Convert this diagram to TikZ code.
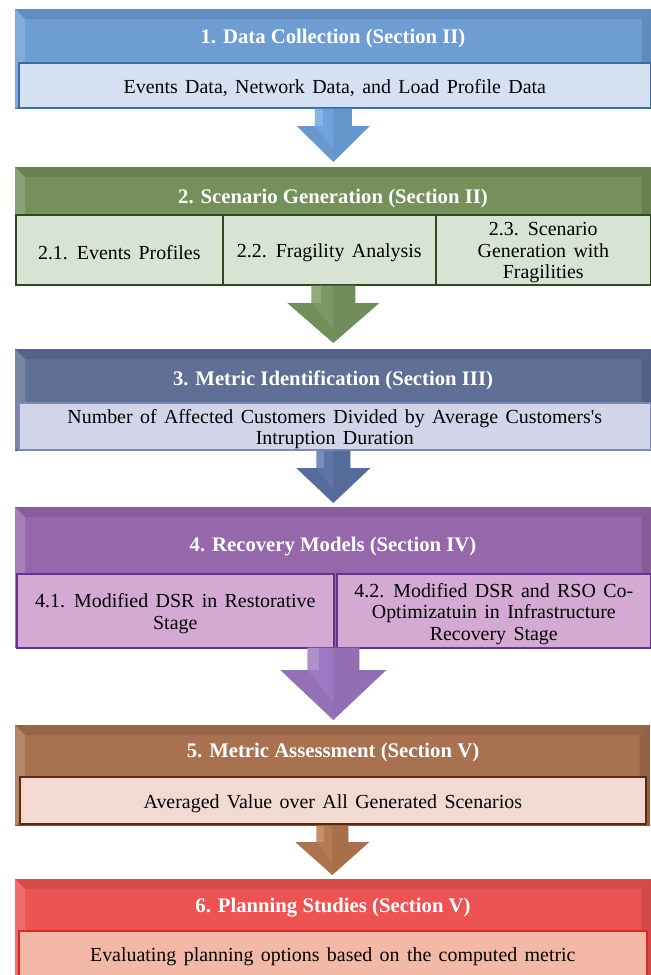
\documentclass[tikz,border=0pt]{standalone}
\usepackage{fontspec}
\setmainfont{Liberation Serif}
\newfontfamily\headfont{Liberation Serif}
\newfontfamily\bodyfont{Liberation Serif}
\usetikzlibrary{calc}

% body text: size, leading and the wide word spacing of the boxes
\newcommand\bodystyle{\bodyfont\fontsize{20}{21.5}\selectfont\spaceskip=7.4pt plus 1pt minus 1pt\relax}

% stage colours: heading band, detail box fill, detail box line, arrow
\definecolor{c1}{HTML}{6D9DD3}\definecolor{c1in}{HTML}{D5E1F2}\definecolor{c1ln}{HTML}{3E6BAC}\definecolor{a1}{HTML}{6FA3DC}
\definecolor{c2}{HTML}{76905C}\definecolor{c2in}{HTML}{D7E3D3}\definecolor{c2ln}{HTML}{2E4A1F}\definecolor{a2}{HTML}{7A9862}
\definecolor{c3}{HTML}{5F6F95}\definecolor{c3in}{HTML}{D2D5EA}\definecolor{c3ln}{HTML}{7F88B8}\definecolor{a3}{HTML}{5C74A6}
\definecolor{c4}{HTML}{9668AB}\definecolor{c4in}{HTML}{D4AAD5}\definecolor{c4ln}{HTML}{64338C}\definecolor{a4}{HTML}{9E78C2}
\definecolor{c5}{HTML}{A8714F}\definecolor{c5in}{HTML}{F2DAD2}\definecolor{c5ln}{HTML}{5A2A12}\definecolor{a5}{HTML}{B57A52}
\definecolor{c6}{HTML}{EE5353}\definecolor{c6in}{HTML}{F4B8A6}\definecolor{c6ln}{HTML}{E02525}

\tikzset{
  panel/.style={fill=#1, draw=#1!75!black, line width=0.6bp, anchor=north west, inner sep=0pt},
  heading/.style={text=white, font=\headfont\bfseries\fontsize{20.8}{24}\selectfont, inner sep=0pt, yshift=-2.5bp},
  detail/.style 2 args={fill=#1, draw=#2, line width=1.6bp, anchor=north west, inner sep=0pt},
  boxtext/.style={inner sep=0pt, align=center, yshift=-3bp, font=\bodystyle},
}

% bevelled rim of a stage panel
\newcommand\bevel[2]{%
  \fill[#2!90!black] (#1.north west) -- (#1.north east) -- ($(#1.north east)+(-10,10)$) -- ($(#1.north west)+(10,10)$) -- cycle;
  \fill[#2!85!white] (#1.north west) -- ($(#1.north west)+(10,10)$) -- ($(#1.south west)+(10,-10)$) -- (#1.south west) -- cycle;
  \fill[#2!88!black] (#1.north east) -- ($(#1.north east)+(-10,10)$) -- ($(#1.south east)+(-10,-10)$) -- (#1.south east) -- cycle;
}

% block arrow: from, tip, shaft half width, head half width, head length, colour
\newcommand\flowarrow[6]{%
  \fill[#6] let \p1=(#1), \p2=(#2) in
    (\x1-#3bp,\y1) -- (\x1+#3bp,\y1) -- (\x1+#3bp,\y2+#5bp) -- (\x1+#4bp,\y2+#5bp)
    -- (\x1,\y2) -- (\x1-#4bp,\y2+#5bp) -- (\x1-#3bp,\y2+#5bp) -- cycle;
  \fill[#6!75!black, opacity=0.3] let \p1=(#1), \p2=(#2) in
    (\x1,\y1) -- (\x1+#3bp,\y1) -- (\x1+#3bp,\y2+#5bp) -- (\x1+#4bp,\y2+#5bp) -- (\x1,\y2) -- cycle;
  \fill[white, opacity=0.18] let \p1=(#1), \p2=(#2) in
    (\x1-#3bp,\y1) -- (\x1-#3bp+0.45*#3bp,\y1) -- (\x1-#3bp+0.45*#3bp,\y2+#5bp) -- (\x1-#3bp,\y2+#5bp) -- cycle;
  \fill[#6!80!black, opacity=0.3] let \p1=(#1), \p2=(#2) in
    (\x1-#4bp,\y2+#5bp) -- (\x1-#3bp,\y2+#5bp) -- (\x1,\y2+0.35*#5bp) -- (\x1,\y2) -- cycle;
}

\begin{document}
\begin{tikzpicture}[x=1bp, y=-1bp]
\useasboundingbox (0,0) rectangle (651,975);

% ---- 1. Data collection
\node[panel=c1, minimum width=636bp, minimum height=99bp] (b1) at (15,9) {};
\bevel{b1}{c1}
\node[heading] (t1) at (333,36) {1. Data Collection (Section II)};
\node[detail={c1in}{c1ln}, minimum width=632bp, minimum height=45bp] (d1) at (18,62) {};
\node[boxtext] (d1t) at (d1.center) {Events Data, Network Data, and Load Profile Data};

% ---- 2. Scenario generation
\node[panel=c2, minimum width=636bp, minimum height=118bp] (b2) at (15,167) {};
\bevel{b2}{c2}
\node[heading] (t2) at (333,196) {2. Scenario Generation (Section II)};
\node[detail={c2in}{c2ln}, minimum width=207bp, minimum height=70bp] (d21) at (15,214) {};
\node[detail={c2in}{c2ln}, minimum width=213bp, minimum height=70bp] (d22) at (222,214) {};
\node[detail={c2in}{c2ln}, minimum width=215bp, minimum height=70bp] (d23) at (435,214) {};
\node[boxtext] (d21t) at (d21.center) {2.1. Events Profiles};
\node[boxtext] (d22t) at (d22.center) {2.2. Fragility Analysis};
\node[boxtext] (d23t) at (d23.center) {2.3. Scenario\\Generation with\\Fragilities};

% ---- 3. Metric identification
\node[panel=c3, minimum width=636bp, minimum height=101bp] (b3) at (15,349) {};
\bevel{b3}{c3}
\node[heading] (t3) at (333,378) {3. Metric Identification (Section III)};
\node[detail={c3in}{c3ln}, minimum width=632bp, minimum height=47bp] (d3) at (18,402) {};
\node[boxtext] (d3t) at (d3.center)
  {Number of Affected Customers Divided by Average Customers's\\Intruption Duration};

% ---- 4. Recovery models
\node[panel=c4, minimum width=636bp, minimum height=140bp] (b4) at (15,507) {};
\bevel{b4}{c4}
\node[heading] (t4) at (333,544) {4. Recovery Models (Section IV)};
\node[detail={c4in}{c4ln}, minimum width=317bp, minimum height=74bp] (d41) at (16,573) {};
\node[detail={c4in}{c4ln}, minimum width=314bp, minimum height=74bp] (d42) at (336,573) {};
\node[boxtext] (d41t) at (d41.center) {4.1. Modified DSR in Restorative\\Stage};
\node[boxtext] (d42t) at (d42.center)
  {4.2. Modified DSR and RSO Co-\\Optimizatuin in Infrastructure\\Recovery Stage};

% ---- 5. Metric assessment
\node[panel=c5, minimum width=634bp, minimum height=100bp] (b5) at (15,725) {};
\bevel{b5}{c5}
\node[heading] (t5) at (333,750) {5. Metric Assessment (Section V)};
\node[detail={c5in}{c5ln}, minimum width=626bp, minimum height=47bp] (d5) at (19,776) {};
\node[boxtext] (d5t) at (d5.center) {Averaged Value over All Generated Scenarios};

% ---- 6. Planning studies
\node[panel=c6, minimum width=636bp, minimum height=110bp] (b6) at (15,879) {};
\bevel{b6}{c6}
\node[heading] (t6) at (333,905) {6. Planning Studies (Section V)};
\node[detail={c6in}{c6ln}, minimum width=628bp, minimum height=46bp] (d6) at (18,930) {};
\node[boxtext] (d6t) at (d6.center) {Evaluating planning options based on the computed metric};

% ---- arrows between stages
\coordinate (e1) at ($(b2.north)+(0,-5)$);
\coordinate (e2) at ($(b3.north)+(0,-6)$);
\coordinate (e3) at ($(b4.north)+(0,-4)$);
\coordinate (e4) at ($(b5.north)+(0,-5)$);
\coordinate (e5) at ($(b6.north)+(0,-4)$);
\flowarrow{b1.south}{e1}{18.5}{36.5}{36}{a1}
\flowarrow{b2.south}{e2}{22}{46}{40}{a2}
\flowarrow{b3.south}{e3}{17}{37}{35}{a3}
\flowarrow{b4.south}{e4}{26}{53}{50}{a4}
\flowarrow{b5.south}{e5}{16}{37}{33}{a5}
\end{tikzpicture}
\end{document}
